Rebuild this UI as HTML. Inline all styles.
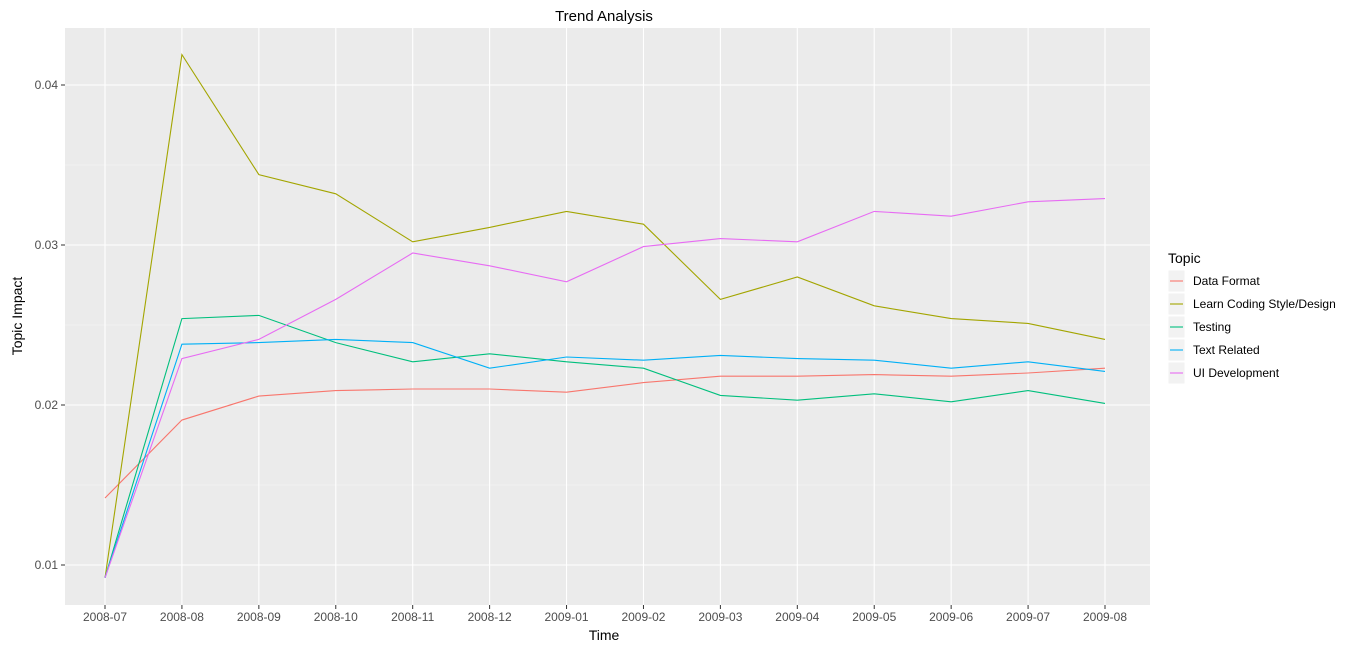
<!DOCTYPE html>
<html><head><meta charset="utf-8"><style>
body{margin:0;background:#fff;font-family:"Liberation Sans",Arial,sans-serif}
svg text{font-family:"Liberation Sans",Arial,sans-serif}
</style></head><body>
<svg id="chart" width="1366" height="650" xmlns="http://www.w3.org/2000/svg">
<rect width="1366" height="650" fill="#fff"/>
<text x="604" y="21" font-size="15" text-anchor="middle" fill="#000">Trend Analysis</text>
<rect x="65" y="28" width="1085" height="577" fill="#ebebeb"/>
<g id="grid"></g><g id="series"></g><g id="axes"></g>
<text x="604" y="640" font-size="14" text-anchor="middle">Time</text>
<text transform="translate(22,316) rotate(-90)" font-size="14" text-anchor="middle">Topic Impact</text>
<g id="legend"></g>
</svg>
<script>
const categories=["2008-07","2008-08","2008-09","2008-10","2008-11","2008-12","2009-01","2009-02","2009-03","2009-04","2009-05","2009-06","2009-07","2009-08"];
const seriesNames=["Data Format","Learn Coding Style/Design","Testing","Text Related","UI Development"];
const seriesColors=["#F8766D","#A3A500","#00BF7D","#00B0F6","#E76BF3"];
const dataFormat=[0.01419,0.01906,0.02056,0.0209,0.0210,0.0210,0.0208,0.0214,0.0218,0.0218,0.0219,0.0218,0.0220,0.0223];
const learnCoding=[0.0092,0.0419,0.0344,0.0332,0.0302,0.0311,0.0321,0.0313,0.0266,0.0280,0.0262,0.0254,0.0251,0.0241];
const testing=[0.0092,0.0254,0.0256,0.0239,0.0227,0.0232,0.0227,0.0223,0.0206,0.0203,0.0207,0.0202,0.0209,0.0201];
const textRelated=[0.0092,0.0238,0.0239,0.0241,0.0239,0.0223,0.0230,0.0228,0.0231,0.0229,0.0228,0.0223,0.0227,0.0221];
const uiDev=[0.0092,0.0229,0.0241,0.0266,0.0295,0.0287,0.0277,0.0299,0.0304,0.0302,0.0321,0.0318,0.0327,0.0329];
const yTicks=[0.01,0.02,0.03,0.04];
const yTickLabels=["0.01","0.02","0.03","0.04"];
const allSeries=[dataFormat,learnCoding,testing,textRelated,uiDev];
const NS="http://www.w3.org/2000/svg";
const xs=i=>105+i*(1000/(categories.length-1));
const ys=v=>565-(v-0.01)*16000;
function mk(tag,attrs,parent){const e=document.createElementNS(NS,tag);for(const k in attrs)e.setAttribute(k,attrs[k]);parent.appendChild(e);return e;}
const grid=document.getElementById('grid'),axes=document.getElementById('axes'),ser=document.getElementById('series'),leg=document.getElementById('legend');
for(let v=0.005;v<=0.045;v+=0.01){const y=ys(v);if(y>28&&y<605){const l=mk('line',{x1:65,x2:1150,y1:y,y2:y,stroke:'#f5f5f5','stroke-width':0.6},grid);

}}
yTicks.forEach((v,i)=>{const y=ys(v);const l=mk('line',{x1:65,x2:1150,y1:y,y2:y,stroke:'#fff','stroke-width':1.1},grid);


mk('line',{x1:61,x2:65,y1:y,y2:y,stroke:'#333'},axes);
const t=mk('text',{x:58,y:y+4,'font-size':12,'text-anchor':'end',fill:'#4d4d4d'},axes);t.textContent=yTickLabels[i];

});
categories.forEach((c,i)=>{const x=xs(i);const l=mk('line',{x1:x,x2:x,y1:28,y2:605,stroke:'#fff','stroke-width':1.1},grid);


mk('line',{x1:x,x2:x,y1:605,y2:609,stroke:'#333'},axes);
const t=mk('text',{x:x,y:621,'font-size':12,'text-anchor':'middle',fill:'#4d4d4d'},axes);t.textContent=c;

});
allSeries.forEach((s,k)=>{const p=mk('polyline',{points:s.map((v,i)=>xs(i)+','+ys(v)).join(' '),fill:'none',stroke:seriesColors[k],'stroke-width':1.1},ser);

});
const lt=mk('text',{x:1168,y:263,'font-size':14},leg);lt.textContent='Topic';


seriesNames.forEach((n,k)=>{const y=270+k*23;const g=mk('g',{},leg);


mk('rect',{x:1168,y:y,width:17,height:22,fill:'#f2f2f2',stroke:'#fff'},g);
mk('line',{x1:1170,x2:1183,y1:y+11,y2:y+11,stroke:seriesColors[k],'stroke-width':1.1},g);
const t=mk('text',{x:1193,y:y+15,'font-size':12,fill:'#000'},g);t.textContent=n;});
</script>
</body></html>
